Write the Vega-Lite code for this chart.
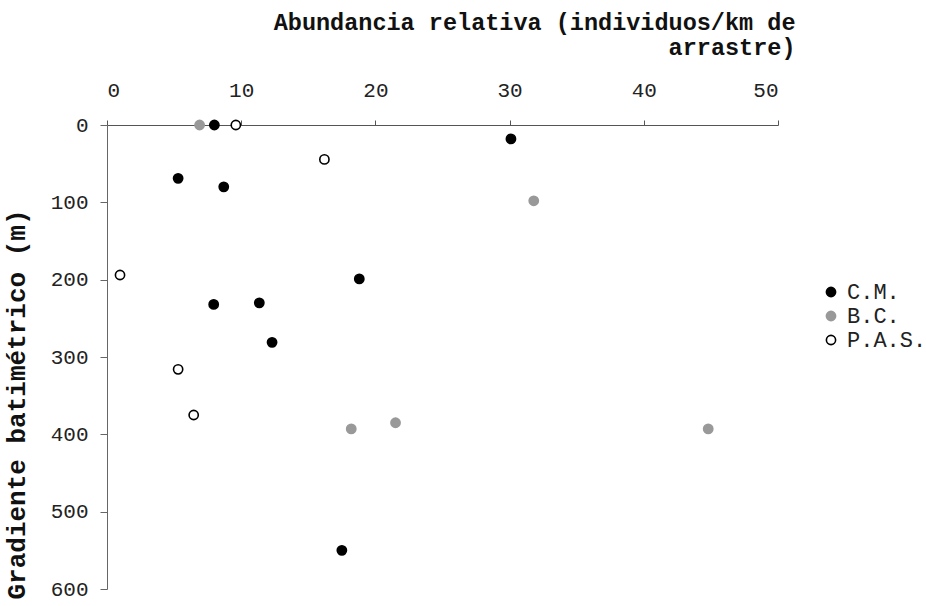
{
  "$schema": "https://vega.github.io/schema/vega-lite/v6.json",
  "width": 671,
  "height": 464,
  "autosize": {"type": "none"},
  "padding": {"left": 107, "top": 125, "right": 148, "bottom": 17},
  "background": "white",
  "config": {"view": {"stroke": null}},
  "data": {"values": [
    {"abundancia": 8.0, "profundidad": 0, "zona": "C.M."},
    {"abundancia": 30.1, "profundidad": 18, "zona": "C.M."},
    {"abundancia": 5.3, "profundidad": 69, "zona": "C.M."},
    {"abundancia": 8.7, "profundidad": 80, "zona": "C.M."},
    {"abundancia": 18.8, "profundidad": 199, "zona": "C.M."},
    {"abundancia": 7.95, "profundidad": 232, "zona": "C.M."},
    {"abundancia": 11.35, "profundidad": 230, "zona": "C.M."},
    {"abundancia": 12.3, "profundidad": 281, "zona": "C.M."},
    {"abundancia": 17.5, "profundidad": 550, "zona": "C.M."},
    {"abundancia": 6.9, "profundidad": 0, "zona": "B.C."},
    {"abundancia": 31.8, "profundidad": 98, "zona": "B.C."},
    {"abundancia": 18.2, "profundidad": 393, "zona": "B.C."},
    {"abundancia": 21.5, "profundidad": 385, "zona": "B.C."},
    {"abundancia": 44.8, "profundidad": 393, "zona": "B.C."},
    {"abundancia": 9.6, "profundidad": 0, "zona": "P.A.S."},
    {"abundancia": 16.2, "profundidad": 44.5, "zona": "P.A.S."},
    {"abundancia": 0.97, "profundidad": 194, "zona": "P.A.S."},
    {"abundancia": 5.3, "profundidad": 316, "zona": "P.A.S."},
    {"abundancia": 6.46, "profundidad": 375, "zona": "P.A.S."}
  ]},
  "mark": {"type": "circle", "size": 85, "strokeWidth": 1.6, "opacity": 1},
  "encoding": {
    "x": {
      "field": "abundancia", "type": "quantitative",
      "scale": {"domain": [0, 50], "nice": false, "zero": false},
      "axis": {
        "orient": "top",
        "values": [0, 10, 20, 30, 40, 50],
        "grid": false,
        "domainColor": "#555555", "domainWidth": 1,
        "tickColor": "#555555", "tickSize": 5,
        "labelFont": "Liberation Mono", "labelFontSize": 21, "labelColor": "#222222",
        "labelPadding": 20,
        "title": ["Abundancia relativa (individuos/km de", "arrastre)"],
        "titleFont": "Liberation Mono", "titleFontSize": 23.5, "titleFontWeight": "bold", "titleColor": "#111111",
        "titleX": 688, "titleY": -96, "titleAlign": "right", "titleBaseline": "alphabetic", "titleLineHeight": 25, "titleAngle": 0
      }
    },
    "y": {
      "field": "profundidad", "type": "quantitative",
      "scale": {"domain": [0, 600], "nice": false, "reverse": true},
      "axis": {
        "values": [0, 100, 200, 300, 400, 500, 600],
        "grid": false,
        "domainColor": "#666666", "domainWidth": 1,
        "tickColor": "#666666", "tickSize": 7,
        "labelFont": "Liberation Mono", "labelFontSize": 21, "labelColor": "#222222",
        "labelPadding": 12,
        "title": "Gradiente batimétrico (m)",
        "titleFont": "Liberation Mono", "titleFontSize": 26, "titleFontWeight": "bold", "titleColor": "#111111",
        "titleX": -91, "titleY": 279, "titleAngle": -90, "titleAlign": "center", "titleBaseline": "middle"
      }
    },
    "fill": {
      "field": "zona", "type": "nominal",
      "scale": {"domain": ["C.M.", "B.C.", "P.A.S."], "range": ["#000000", "#999999", "#ffffff"]},
      "legend": {
        "title": null, "orient": "none", "legendX": 713, "legendY": 156,
        "labelFont": "Liberation Mono", "labelFontSize": 22, "labelColor": "#222222",
        "symbolType": "circle", "symbolSize": 85, "symbolStrokeWidth": 1.6,
        "rowPadding": 2, "labelOffset": 5
      }
    },
    "stroke": {
      "field": "zona", "type": "nominal",
      "scale": {"domain": ["C.M.", "B.C.", "P.A.S."], "range": ["#000000", "#999999", "#000000"]},
      "legend": {
        "title": null, "orient": "none", "legendX": 713, "legendY": 156,
        "labelFont": "Liberation Mono", "labelFontSize": 22, "labelColor": "#222222",
        "symbolType": "circle", "symbolSize": 85, "symbolStrokeWidth": 1.6,
        "rowPadding": 2, "labelOffset": 5
      }
    }
  }
}
